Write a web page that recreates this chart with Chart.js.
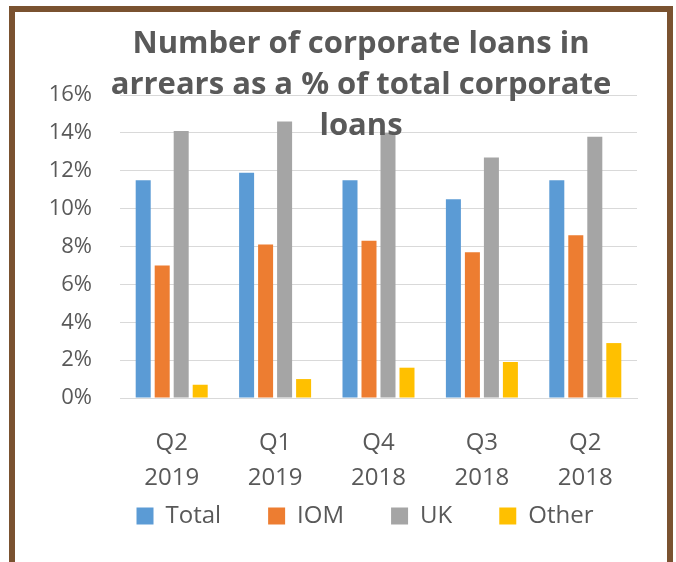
<!DOCTYPE html>
<html>
<head>
<meta charset="utf-8">
<script src="https://cdn.jsdelivr.net/npm/chart.js@4"></script>
<style>
  html, body { margin: 0; padding: 0; background: #fff; overflow: hidden; }
  .frame {
    position: absolute; left: 9px; top: 6px;
    width: 652px; height: 580px;
    border: 6px solid #7a5230; border-bottom: none;
    background: #fff;
  }
  canvas { display: block; }
</style>
</head>
<body>
<div class="frame"><canvas id="chart" width="652" height="566"></canvas></div>
<script>
  const TITLE_LINES = ["Number of corporate loans in", "arrears as a % of total corporate", "loans"];
  const QUARTERS = [["Q2", "2019"], ["Q1", "2019"], ["Q4", "2018"], ["Q3", "2018"], ["Q2", "2018"]];
  const TOTAL = [11.5, 11.9, 11.5, 10.5, 11.5];
  const IOM = [7.0, 8.1, 8.3, 7.7, 8.6];
  const UK = [14.1, 14.6, 14.0, 12.7, 13.8];
  const OTHER = [0.7, 1.0, 1.6, 1.9, 2.9];

  const TEXT = "#595959";
  const FONT = "'Open Sans', 'Noto Sans', sans-serif";

  // title sits over the plot area like the Excel original, so draw it by hand
  const overlayTitle = {
    id: "overlayTitle",
    afterDraw(chart) {
      const ctx = chart.ctx;
      ctx.save();
      ctx.fillStyle = TEXT;
      ctx.font = `bold 31px ${FONT}`;
      ctx.textAlign = "center";
      ctx.textBaseline = "alphabetic";
      const baselines = [41, 82, 123];
      TITLE_LINES.forEach((t, i) => ctx.fillText(t, 346, baselines[i]));
      ctx.restore();
    },
  };

  // legend needs wide gaps between items but must sit close to the axis labels
  const nudgeLegend = {
    id: "nudgeLegend",
    afterLayout(chart) {
      const lg = chart.legend;
      const dx = 350 - (lg.left + lg.right) / 2;
      const dy = 445 - lg.top;
      lg.left += dx; lg.right += dx;
      lg.top += dy; lg.bottom += dy;
    },
  };

  const ds = (label, data, color) => ({
    label, data,
    backgroundColor: color,
    borderWidth: 0,
    categoryPercentage: 0.735,
    barPercentage: 0.79,
  });

  new Chart(document.getElementById("chart"), {
    type: "bar",
    data: {
      labels: QUARTERS,
      datasets: [
        ds("Total", TOTAL, "#5b9bd5"),
        ds("IOM", IOM, "#ed7d31"),
        ds("UK", UK, "#a5a5a5"),
        ds("Other", OTHER, "#ffc000"),
      ],
    },
    options: {
      responsive: false,
      animation: false,
      layout: { padding: { top: 83, left: 0, right: 30, bottom: 0 } },
      plugins: {
        title: { display: false },
        tooltip: { enabled: false },
        legend: {
          position: "bottom",
          labels: {
            color: TEXT,
            font: { family: FONT, size: 24 },
            boxWidth: 17,
            boxHeight: 17,
            padding: 47,
          },
        },
      },
      scales: {
        x: {
          afterFit: (s) => { s.height = 99; },
          grid: { display: false, drawTicks: false },
          border: { color: "#d9d9d9", width: 1 },
          ticks: {
            color: TEXT,
            padding: 27,
            font: { family: FONT, size: 24, lineHeight: 35.5 / 24 },
            maxRotation: 0,
          },
        },
        y: {
          min: 0,
          max: 16,
          afterFit: (s) => { s.width = 105; },
          grid: { color: "#d9d9d9", lineWidth: 1, drawTicks: false },
          border: { display: false },
          ticks: {
            stepSize: 2,
            color: TEXT,
            padding: 28,
            font: { family: FONT, size: 22 },
            callback: (v) => v + "%",
          },
        },
      },
    },
    plugins: [overlayTitle, nudgeLegend],
  });
</script>
</body>
</html>
